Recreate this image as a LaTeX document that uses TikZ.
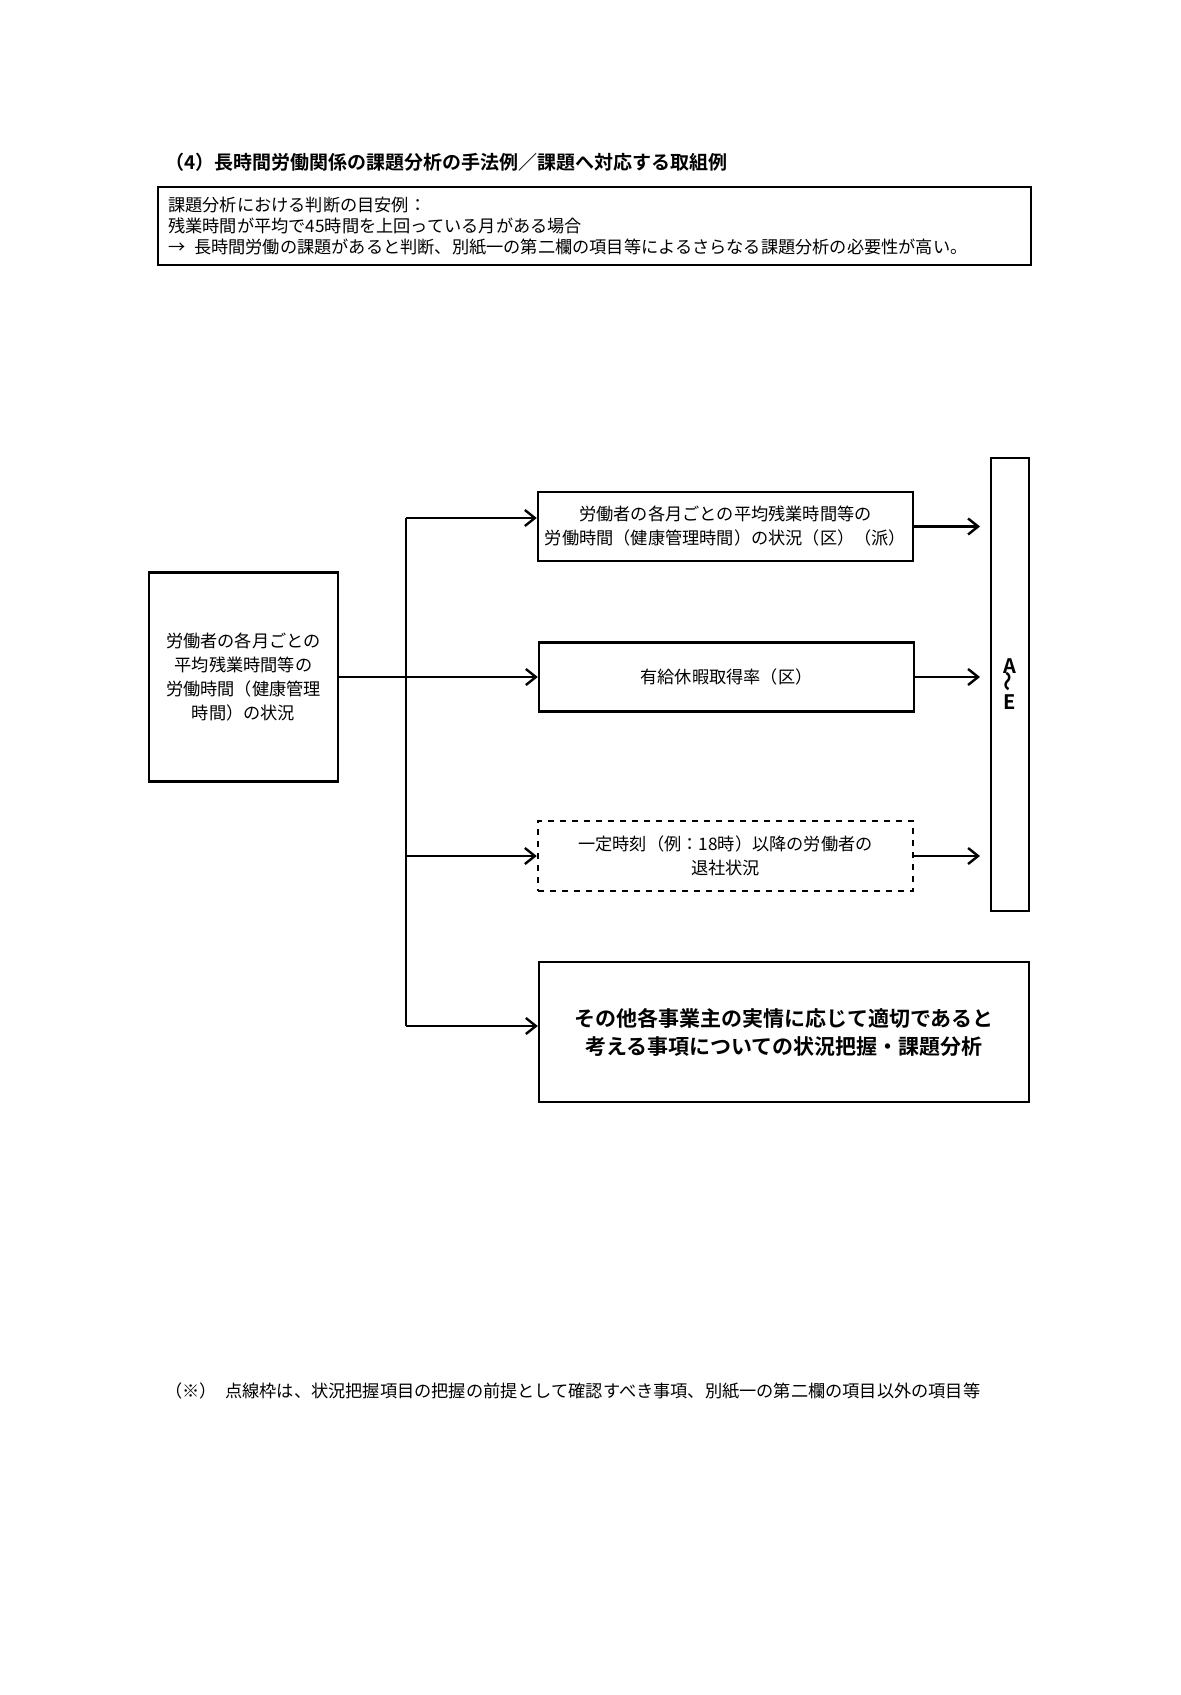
\documentclass[tikz,border=0pt]{standalone}
\usepackage{fontspec}
\setmainfont{Noto Sans CJK JP}[BoldFont={Noto Sans CJK JP Bold}]
\usetikzlibrary{arrows.meta}
\tikzset{
    box/.style={draw, line width=1.2pt, align=center, inner sep=0pt, font=\fontsize{8.6}{12}\selectfont}, % 枠の共通スタイル
    link/.style={line width=1.2pt, -{Straight Barb[length=5pt,width=8pt]}} % 矢印
}

\begin{document}
\begin{tikzpicture}[x=0.5pt, y=-0.5pt]
    \useasboundingbox[fill=white] (0,0) rectangle (1181,1695);

    \node[anchor=west, font=\bfseries\fontsize{9.5}{12}\selectfont] (title) at (158,162) {（4）長時間労働関係の課題分析の手法例／課題へ対応する取組例};
    \node[box, line width=0.8pt, anchor=north west, minimum width=436.5pt, minimum height=39pt, align=left, text width=426pt, font=\fontsize{8.6}{10.5}\selectfont] (crit) at (157,186) {課題分析における判断の目安例：\\残業時間が平均で45時間を上回っている月がある場合\\→\enspace 長時間労働の課題があると判断、別紙一の第二欄の項目等によるさらなる課題分析の必要性が高い。};

    \node[box, minimum width=94.5pt, minimum height=104.5pt] (src) at (243.5,677) {労働者の各月ごとの\\平均残業時間等の\\労働時間（健康管理\\時間）の状況};
    \node[box, minimum width=187.5pt, minimum height=34.5pt] (hours) at (725.5,526.5) {労働者の各月ごとの平均残業時間等の\\労働時間（健康管理時間）の状況（区）（派）};
    \node[box, minimum width=187.5pt, minimum height=34.5pt] (leave) at (726.5,677) {有給休暇取得率（区）};
    \node[box, dashed, minimum width=187.5pt, minimum height=35pt] (leavework) at (725.5,856) {一定時刻（例：18時）以降の労働者の\\退社状況};
    \node[box, minimum width=245pt, minimum height=70pt, font=\bfseries\fontsize{10.5}{14}\selectfont] (other) at (784,1032) {その他各事業主の実情に応じて適切であると\\考える事項についての状況把握・課題分析};
    \node[box, minimum width=19pt, minimum height=226.5pt, font=\bfseries\fontsize{10}{11}\selectfont] (ae) at (1010,684.5) {A\\[-2pt]\rotatebox{90}{～}\\[-2pt]E};

    \coordinate (trunk) at (406,677);
    \draw[line width=1.2pt] (406,518) -- (406,1026);
    \draw[line width=1.2pt] (src.east) -- (trunk);
    \draw[link] (406,518) -- (hours.west |- 0,518);
    \draw[link] (trunk) -- (leave.west);
    \draw[link] (406,856) -- (leavework.west);
    \draw[link] (406,1026) -- (other.west |- 0,1026);
    \foreach \n in {hours, leave, leavework} {\draw[link] (\n.east) -- (\n.east -| 980,0);}

    \node[anchor=west, font=\fontsize{8.6}{12}\selectfont] (note) at (158,1391) {（※）\enspace 点線枠は、状況把握項目の把握の前提として確認すべき事項、別紙一の第二欄の項目以外の項目等};
\end{tikzpicture}
\end{document}
